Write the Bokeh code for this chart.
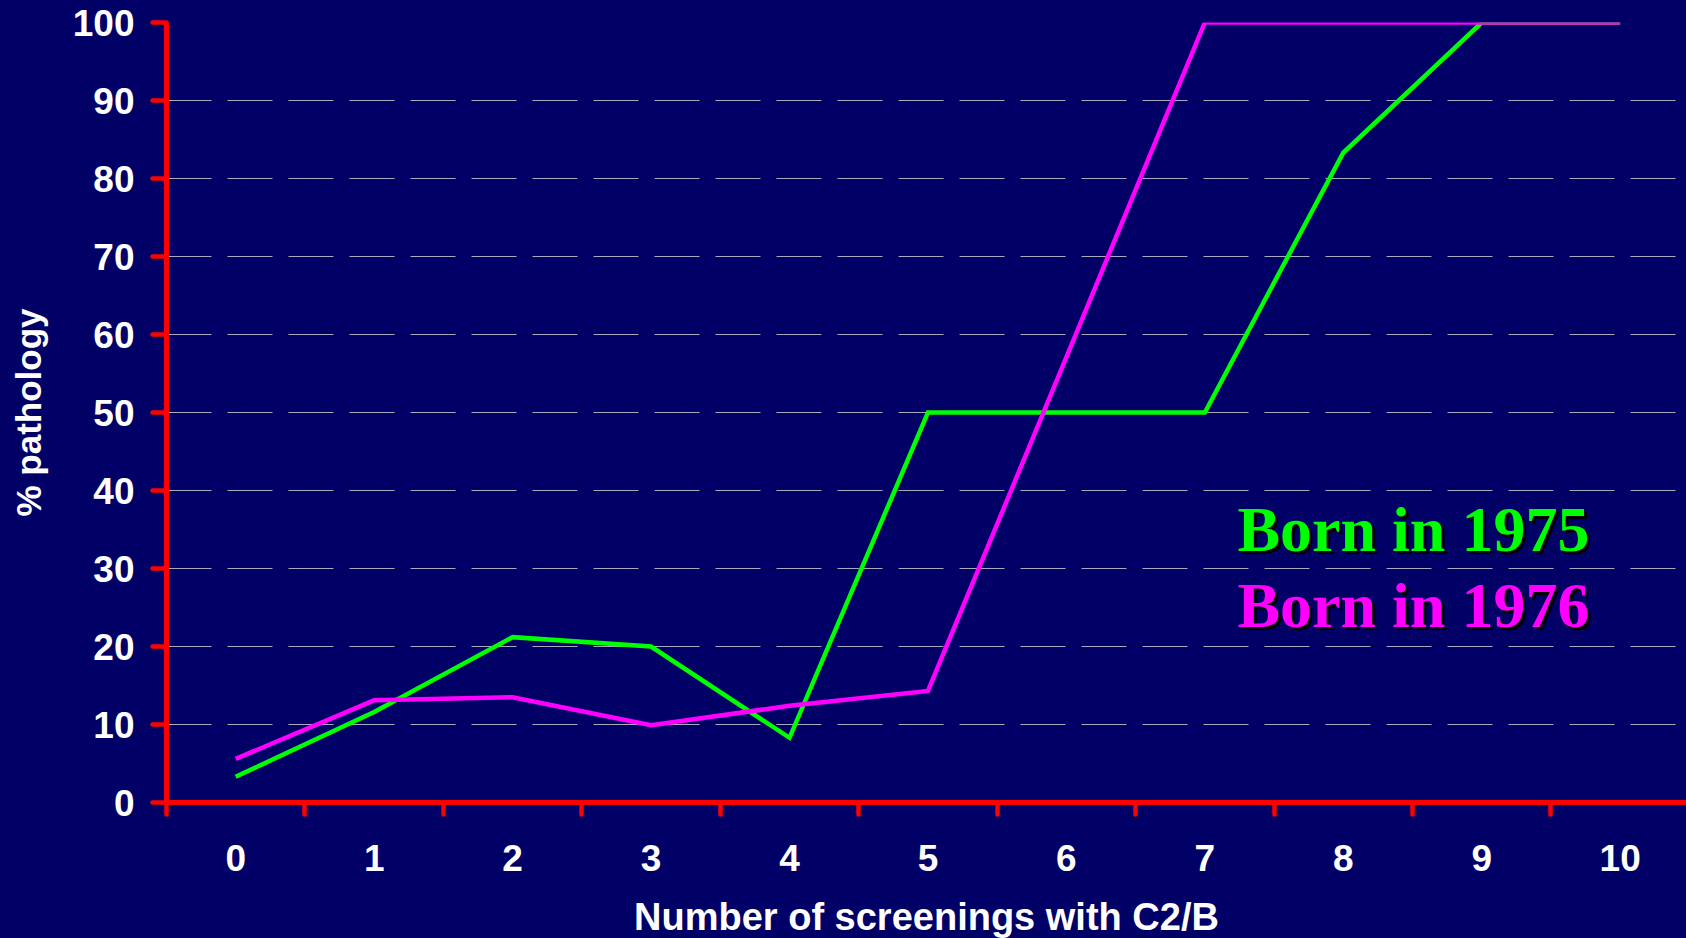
from bokeh.plotting import figure
from bokeh.models import FixedTicker, Label
from bokeh.embed import file_html
from bokeh.resources import INLINE

screenings = [0, 1, 2, 3, 4, 5, 6, 7, 8, 9, 10]
born_1975 = [3.3, 11.6, 21.2, 20.0, 8.3, 50.0, 50.0, 50.0, 83.3, 100.0, 100.0]
born_1976 = [5.6, 13.1, 13.5, 9.9, 12.4, 14.3, 57.1, 100.0, 100.0, 100.0, 100.0]
y_ticks = [0, 10, 20, 30, 40, 50, 60, 70, 80, 90, 100]
x_boundaries = [-0.5, 0.5, 1.5, 2.5, 3.5, 4.5, 5.5, 6.5, 7.5, 8.5, 9.5, 10.5]
series_labels = ["Born in 1975", "Born in 1976"]

BG = "#000066"
RED = "#FF0000"
GREEN = "#00FF00"
MAGENTA = "#FF00FF"
SANS = "Liberation Sans"
SERIF = "Liberation Serif"

p = figure(frame_width=1520, frame_height=780,
           x_range=(-0.5, 10.479), y_range=(0, 100),
           min_border_left=166, min_border_top=22, min_border_right=0, min_border_bottom=120,
           output_backend="svg", toolbar_location=None,
           background_fill_color=BG, border_fill_color=BG, outline_line_color=None)

# axes
p.xaxis.ticker = FixedTicker(ticks=screenings, minor_ticks=x_boundaries)
p.yaxis.ticker = FixedTicker(ticks=y_ticks, minor_ticks=[])
for ax in (p.xaxis, p.yaxis):
    ax.axis_line_color = RED
    ax.axis_line_width = 5
    ax.major_label_text_color = "white"
    ax.major_label_text_font = SANS
    ax.major_label_text_font_style = "bold"
    ax.major_label_text_font_size = "37px"
    ax.axis_label_text_color = "white"
    ax.axis_label_text_font = SANS
    ax.axis_label_text_font_style = "bold"
    ax.axis_label_text_font_size = "38px"

p.xaxis.major_tick_line_color = None
p.xaxis.major_tick_out = 0
p.xaxis.major_tick_in = 0
p.xaxis.minor_tick_line_color = RED
p.xaxis.minor_tick_line_width = 4.5
p.xaxis.minor_tick_line_cap = "round"
p.xaxis.minor_tick_out = 12
p.xaxis.minor_tick_in = 0
p.xaxis.major_label_standoff = 30
p.xaxis.axis_label = "Number of screenings with C2/B"
p.xaxis.axis_label_standoff = 22

p.yaxis.major_tick_line_color = RED
p.yaxis.major_tick_line_width = 4.5
p.yaxis.major_tick_line_cap = "round"
p.yaxis.major_tick_out = 14
p.yaxis.major_tick_in = 0
p.yaxis.minor_tick_line_color = None
p.yaxis.major_label_standoff = 18
p.yaxis.axis_label = "% pathology"
p.yaxis.axis_label_text_font_size = "35px"
p.yaxis.axis_label_standoff = 22

p.xgrid.grid_line_color = None
p.ygrid.grid_line_color = "#A8A8C0"
p.ygrid.grid_line_width = 1
p.ygrid.grid_line_dash = "45 16"

# lines
p.line(screenings, born_1975, line_color=GREEN, line_width=4.5, line_join="miter")
p.line(screenings, born_1976, line_color=MAGENTA, line_width=4.5, line_join="miter")

# text legend with shadow
for lbl, col, yy in zip(series_labels, [GREEN, MAGENTA], [35.0, 25.2]):
    for dx, dy, c in [(3, -3, "black"), (0, 0, col)]:
        p.add_layout(Label(x=7.235, y=yy, x_offset=dx, y_offset=dy, text=lbl,
                           text_color=c, text_font=SERIF, text_font_style="bold",
                           text_font_size="64px", text_baseline="alphabetic",
                           text_align="left"))

html = file_html(p, INLINE)
html = html.replace("<head>", "<head><style>html,body{background:#000066;}</style>", 1)
open("out.html", "w").write(html)
